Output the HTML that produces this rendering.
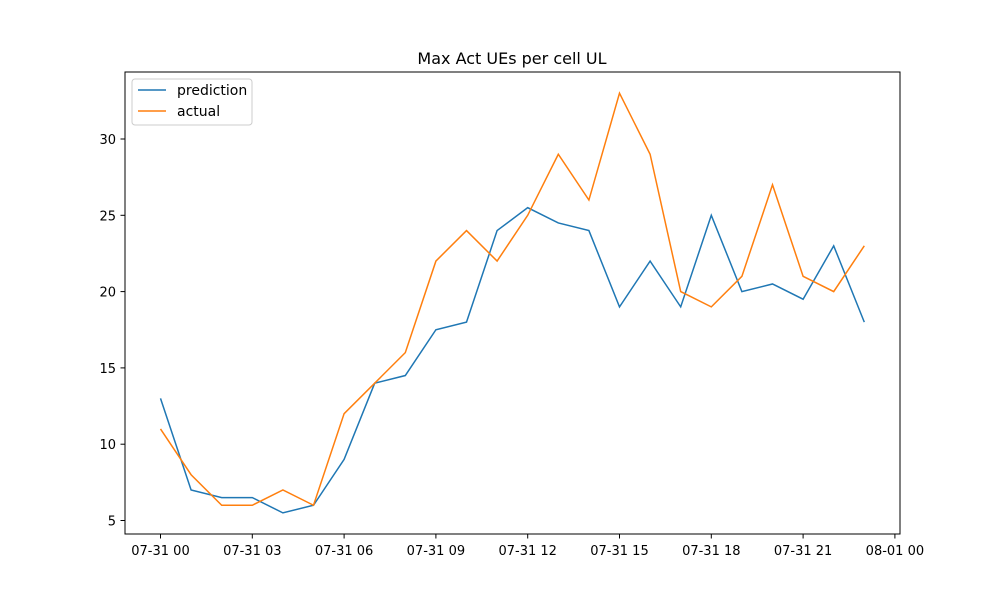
<!DOCTYPE html>
<html><head><meta charset="utf-8"><style>body{margin:0;background:#fff}svg{font-family:"DejaVu Sans","Liberation Sans",sans-serif}</style></head>
<body>
<svg id="chart" width="1000" height="600">
<rect width="1000" height="600" fill="#fff"/>
<text x="512" y="64" text-anchor="middle" font-size="16">Max Act UEs per cell UL</text>
<g id="ticks"></g>
<g id="lines"></g>
<rect x="125" y="72" width="775" height="462" fill="none" stroke="#000" stroke-width="1"/>
<g>
<rect x="132" y="79" width="120" height="46" rx="3" fill="#fff" stroke="#ccc"/>
<line x1="138" y1="90" x2="166" y2="90" stroke="#1f77b4" stroke-width="1.5"/>
<text x="177" y="95" font-size="14">prediction</text>
<line x1="138" y1="111" x2="166" y2="111" stroke="#ff7f0e" stroke-width="1.5"/>
<text x="177" y="116" font-size="14">actual</text>
</g>
</svg>
<script>
const hours=[0,1,2,3,4,5,6,7,8,9,10,11,12,13,14,15,16,17,18,19,20,21,22,23];
const prediction=[13,7,6.5,6.5,5.5,6,9,14,14.5,17.5,18,24,25.5,24.5,24,19,22,19,25,20,20.5,19.5,23,18];
const actual=[11,8,6,6,7,6,12,14,16,22,24,22,25,29,26,33,29,20,19,21,27,21,20,23];
const xTickHours=[0,3,6,9,12,15,18,21,24];
const xTickLabels=["07-31 00","07-31 03","07-31 06","07-31 09","07-31 12","07-31 15","07-31 18","07-31 21","08-01 00"];
const yTicks=[5,10,15,20,25,30];
const ns="http://www.w3.org/2000/svg";
const X=h=>160.5+h*30.6;
const Y=v=>520.5-(v-5)*15.26;
const tg=document.getElementById('ticks'),lg=document.getElementById('lines');
function mk(t,a,p){const e=document.createElementNS(ns,t);for(const k in a)e.setAttribute(k,a[k]);p.appendChild(e);return e;}
xTickHours.forEach((h,i)=>{
 const l=mk('line',{x1:X(h),x2:X(h),y1:534,y2:538.5,stroke:'#000'},tg);
 
 
 const t=mk('text',{x:X(h),y:555,'text-anchor':'middle','font-size':13},tg);t.textContent=xTickLabels[i];
 
 
});
yTicks.forEach(v=>{
 const l=mk('line',{x1:120.5,x2:125,y1:Y(v),y2:Y(v),stroke:'#000'},tg);
 
 
 const t=mk('text',{x:116,y:Y(v)+5,'text-anchor':'end','font-size':13},tg);t.textContent=v;
 
 
});
function line(d,c,n){
 const p=mk('polyline',{points:d.map((v,i)=>X(hours[i])+','+Y(v)).join(' '),fill:'none',stroke:c,'stroke-width':1.5},lg);
 
 
}
line(prediction,'#1f77b4','prediction-line');
line(actual,'#ff7f0e','actual-line');
</script>
</body></html>
